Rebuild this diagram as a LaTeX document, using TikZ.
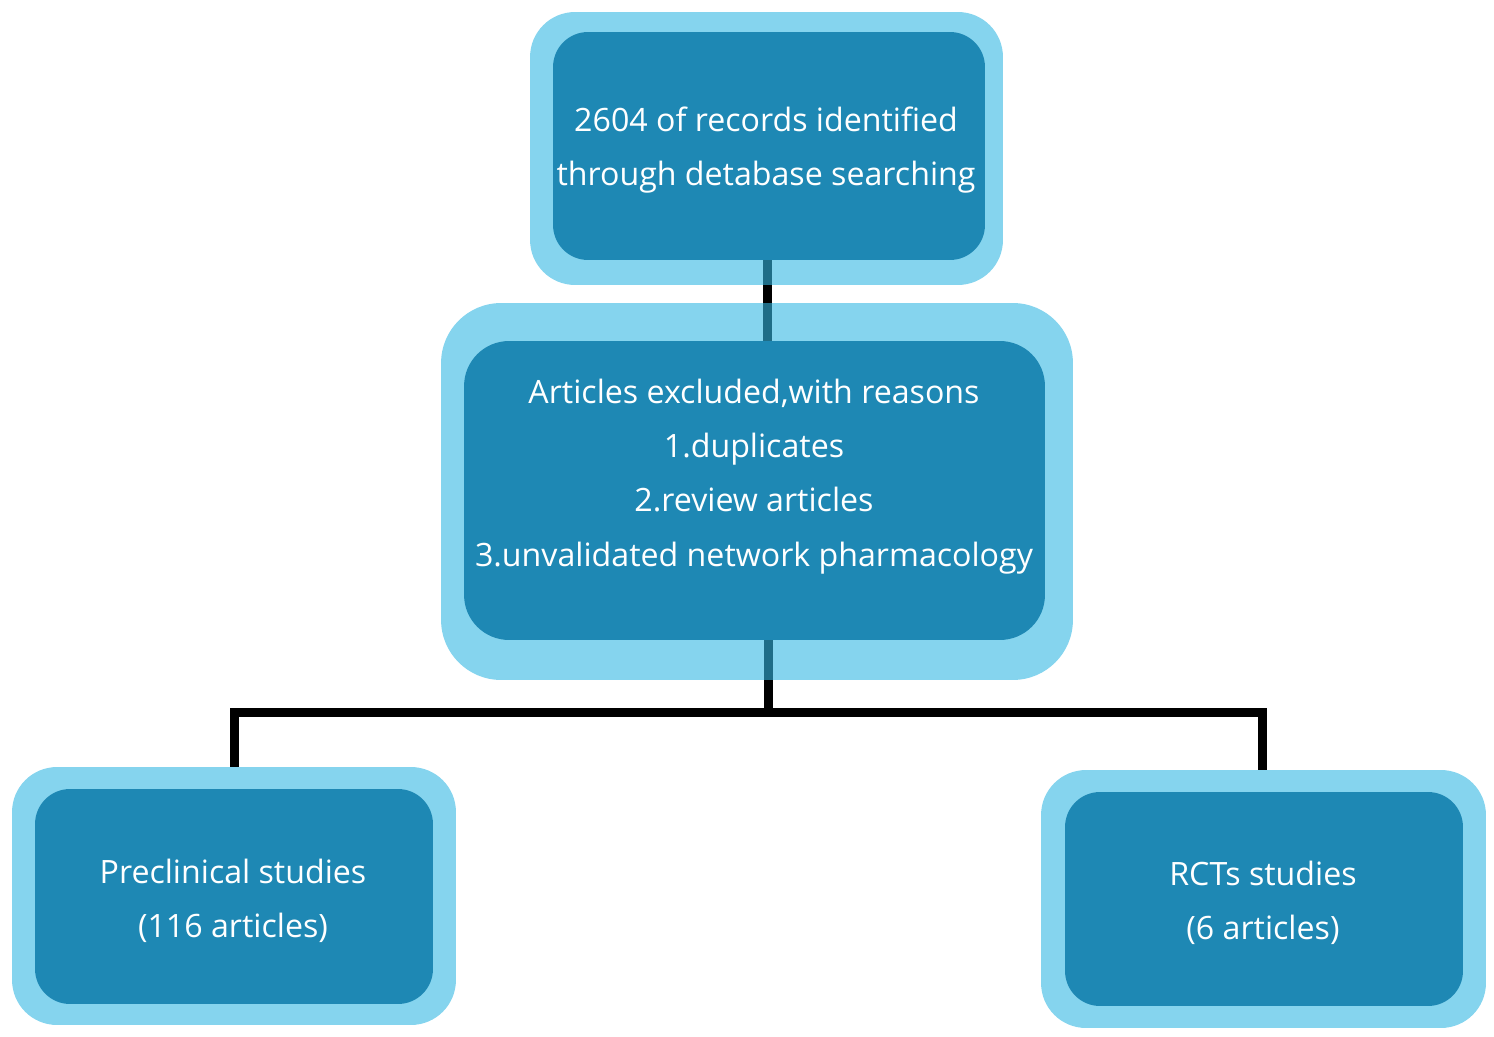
\documentclass[tikz,border=0pt]{standalone}
\usepackage{fontspec}
\setmainfont{Open Sans}
\pgfdeclarelayer{bg}
\pgfsetlayers{bg,main}
\definecolor{outerblue}{RGB}{52,183,226}
\definecolor{innerblue}{RGB}{30,136,180}
\tikzset{
  outerbox/.style={fill=outerblue, fill opacity=0.6, draw=none},
  innerbox/.style={fill=innerblue, draw=none, text=white, align=center,
    font=\fontsize{18.3}{30.8}\selectfont, text opacity=1},
  link/.style={line width=0.18cm, draw=black, line join=miter}
}
\begin{document}
\begin{tikzpicture}[x=0.02cm,y=-0.02cm]
\useasboundingbox (0,0) rectangle (1494,1037);
% outer boxes
\node[outerbox, rounded corners=0.9cm, minimum width=9.46cm, minimum height=5.46cm] (topout) at (766.5,148.5) {};
\node[outerbox, rounded corners=1.2cm, minimum width=12.64cm, minimum height=7.54cm] (midout) at (757,491.5) {};
\node[outerbox, rounded corners=0.9cm, minimum width=8.88cm, minimum height=5.16cm] (leftout) at (234,896) {};
\node[outerbox, rounded corners=0.9cm, minimum width=8.9cm, minimum height=5.16cm] (rightout) at (1263.5,899) {};
% inner boxes
\node[innerbox, rounded corners=0.7cm, minimum width=8.64cm, minimum height=4.56cm] (topin) at (769,146) {};
\node[innerbox, rounded corners=0.9cm, minimum width=11.62cm, minimum height=5.98cm] (midin) at (754.5,490.5) {};
\node[innerbox, rounded corners=0.7cm, minimum width=7.96cm, minimum height=4.3cm] (leftin) at (234,896.5) {};
\node[innerbox, rounded corners=0.7cm, minimum width=7.96cm, minimum height=4.28cm] (rightin) at (1264,899) {};
% texts
\node[innerbox, fill=none] (toptext) at (766,150) {2604 of records identified\\through detabase searching};
\node[innerbox, fill=none] (midtext) at (754,476.5) {Articles excluded,with reasons\\1.duplicates\\2.review articles\\3.unvalidated network pharmacology};
\node[innerbox, fill=none] (lefttext) at (233,900.5) {Preclinical studies\\(116 articles)};
\node[innerbox, fill=none] (righttext) at (1263,903) {RCTs studies\\(6 articles)};
% connectors
\coordinate (xa) at (767,0);
\coordinate (bus) at (768,712);
\coordinate (xr) at (1262,0);
\begin{pgfonlayer}{bg}
\draw[link] (xa |- topin.south) -- (xa |- midin.north);
\draw[link] (bus |- midin.south) -- (bus);
\draw[link] (leftout.north) |- (bus) -| (xr |- rightout.north);
\end{pgfonlayer}
\end{tikzpicture}
\end{document}
